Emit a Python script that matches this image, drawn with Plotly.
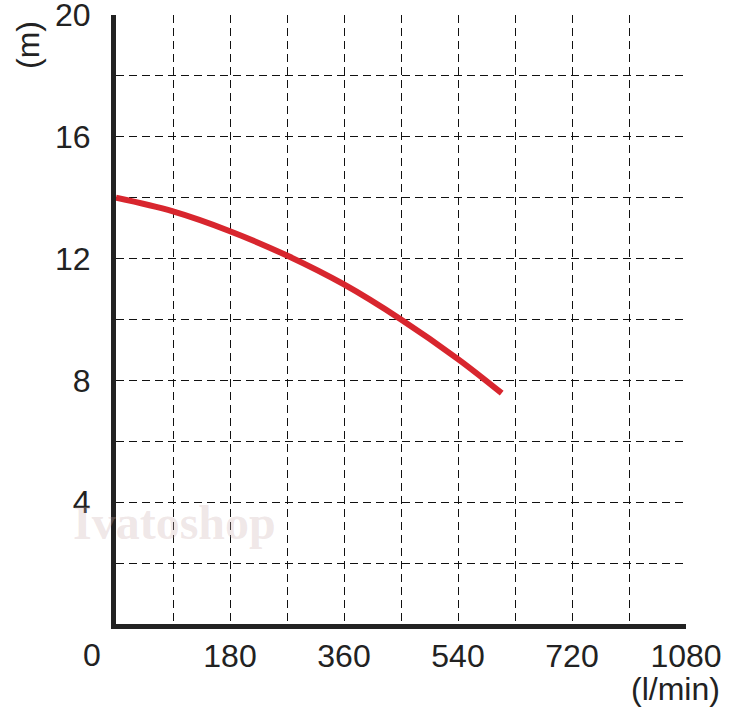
import plotly.graph_objects as go

# Data
flow = [0, 90, 180, 270, 360, 450, 540, 609]              # l/min (axis units)
head = [14.0, 13.55, 12.9, 12.1, 11.15, 10.0, 8.7, 7.58]  # m

x_tick_vals = [180, 360, 540, 720, 900]
x_tick_text = ["180", "360", "540", "720", "1080"]
x_grid_vals = [90, 180, 270, 360, 450, 540, 630, 720, 810]
y_tick_vals = [4, 8, 12, 16, 20]
y_tick_text = ["4", "8", "12", "16", "20"]
y_grid_vals = [2, 4, 6, 8, 10, 12, 14, 16, 18]

FONT = "Liberation Sans, Arial, sans-serif"
TXT = "#222222"
FS = 32

W, H = 747, 715
l, r, t, b = 116, 61, 15, 91
pw, ph = W - l - r, H - t - b
def px(xp): return (xp - l) / pw
def py(yp): return (H - b - yp) / ph

fig = go.Figure()
# helper traces to activate the grid / label axes
fig.add_trace(go.Scatter(x=[0], y=[0], xaxis="x2", mode="markers",
                         marker=dict(opacity=0), hoverinfo="skip", showlegend=False))
fig.add_trace(go.Scatter(x=[0], y=[0], yaxis="y2", mode="markers",
                         marker=dict(opacity=0), hoverinfo="skip", showlegend=False))
fig.add_trace(go.Scatter(
    x=flow, y=head, mode="lines",
    line=dict(color="#d8262e", width=6, shape="spline", smoothing=1.0),
    hoverinfo="skip", showlegend=False,
))

grid = dict(showgrid=True, gridcolor="#111111", gridwidth=1, griddash="8px,5px")

fig.update_layout(
    width=W, height=H,
    margin=dict(l=l, r=r, t=t, b=b, autoexpand=False),
    paper_bgcolor="white", plot_bgcolor="white",
    font=dict(family=FONT, size=FS, color=TXT),
    xaxis=dict(
        range=[0, 900], tickvals=x_grid_vals, showticklabels=False, ticks="",
        zeroline=False, showline=False, fixedrange=True, automargin=False, **grid,
    ),
    xaxis2=dict(
        range=[0, 900], overlaying="x", side="bottom", anchor="y",
        tickvals=x_tick_vals, ticktext=x_tick_text, ticks="",
        ticklabelstandoff=0, showgrid=False, zeroline=False, automargin=False,
        ticklabeloverflow="allow",
        showline=True, linecolor="#222222", linewidth=5,
        tickfont=dict(family=FONT, size=FS, color=TXT),
    ),
    yaxis=dict(
        range=[0, 20], tickvals=y_tick_vals, ticktext=y_tick_text, ticks="",
        ticklabelstandoff=14, showgrid=False, zeroline=False, automargin=False,
        ticklabeloverflow="allow",
        showline=True, linecolor="#222222", linewidth=5,
        tickfont=dict(family=FONT, size=FS, color=TXT),
    ),
    yaxis2=dict(
        range=[0, 20], overlaying="y", tickvals=y_grid_vals, showticklabels=False,
        zeroline=False, showline=False, ticks="", automargin=False, **grid,
    ),
)

ann = dict(xref="paper", yref="paper", showarrow=False,
           xanchor="center", yanchor="middle")
fig.add_annotation(text="0", x=px(92), y=py(655),
                   font=dict(family=FONT, size=FS, color=TXT), **ann)
fig.add_annotation(text="(m)", x=px(28), y=py(45), textangle=-90,
                   font=dict(family=FONT, size=FS, color=TXT), **ann)
fig.add_annotation(text="(l/min)", x=px(675), y=py(689),
                   font=dict(family=FONT, size=FS, color=TXT), **ann)
fig.add_annotation(text="<b>Ivatoshop</b>", x=px(174), y=py(522),
                   font=dict(family="Liberation Serif, serif", size=48,
                             color="rgba(205,175,175,0.3)"), **ann)

fig.write_html("out.html", config={"displayModeBar": False},
               post_script="document.body.style.margin='0';document.body.style.padding='0';")
